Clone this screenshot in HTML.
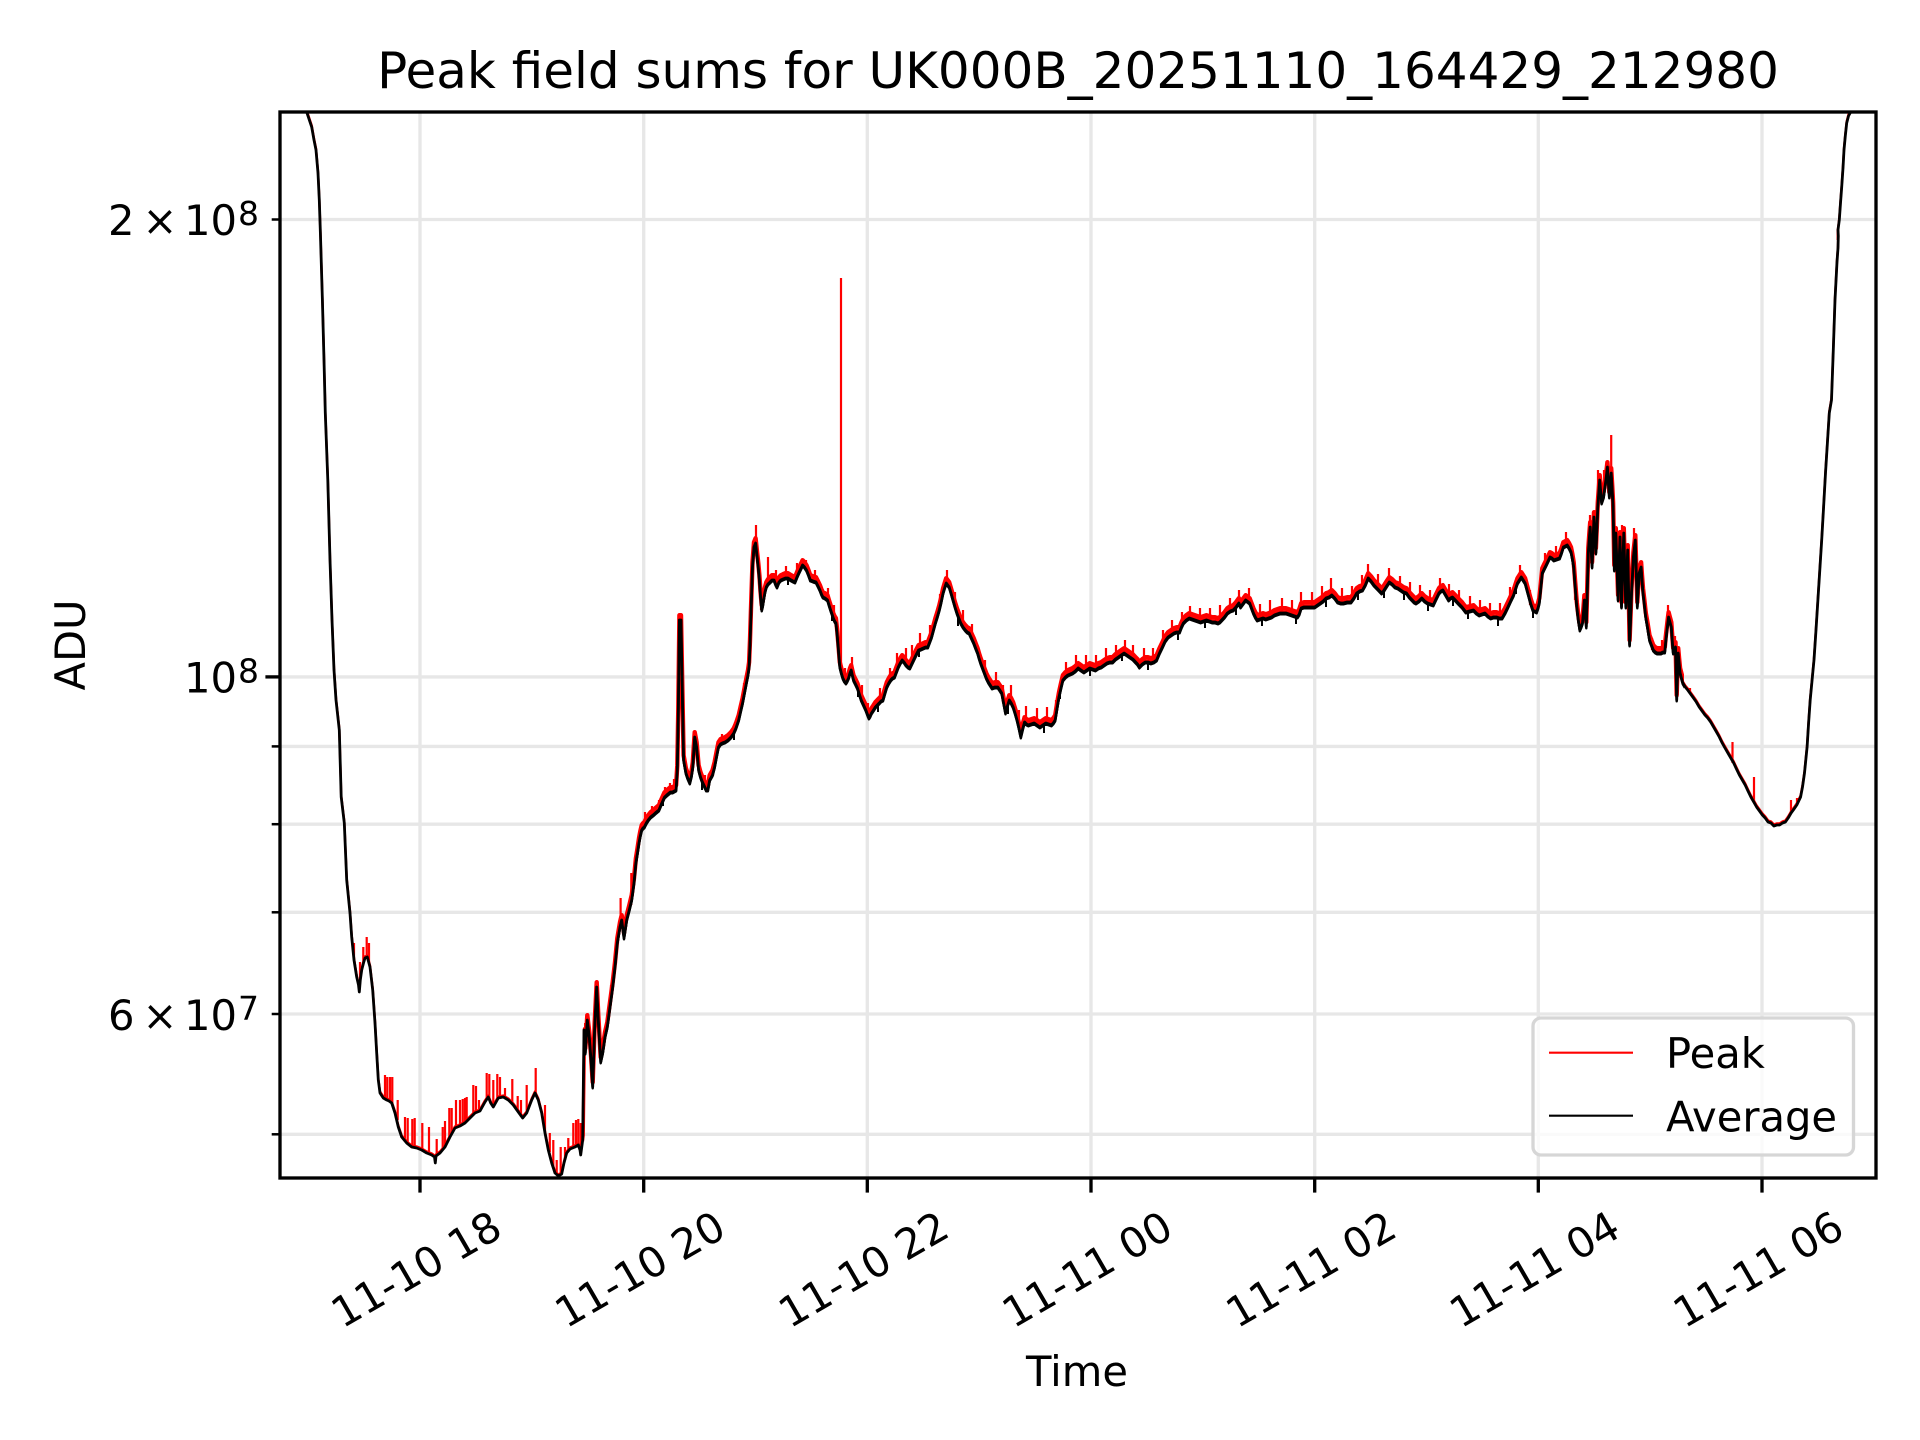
<!DOCTYPE html>
<html><head><meta charset="utf-8"><style>html,body{margin:0;padding:0;background:#fff}svg{display:block}</style></head>
<body>
<svg width="1920" height="1440" viewBox="0 0 1920 1440" xmlns="http://www.w3.org/2000/svg" font-family="'DejaVu Sans','Liberation Sans',sans-serif">
<rect width="1920" height="1440" fill="#fff"/>
<defs>
<clipPath id="ax"><rect x="280" y="112" width="1596" height="1066"/></clipPath>
<clipPath id="mid"><rect x="584" y="112" width="1100" height="1066"/></clipPath>
<polyline id="avg" points="303,100 306.7,112 311.7,127 314,140 316,150 318,173 319.3,200 320.4,233 322.4,300 324,360 325.3,413 327.8,480 330,560 332,620 334,670 336,700 339.3,730 341.2,797 344.3,823 346.7,880 350,913 351.7,937 354,960 356.7,977 358.5,985 359.3,992 360.3,980 361.7,970 363.5,963 365,958 367.3,957 370,967 372.7,990 375,1023 376.7,1053 378.3,1080 380,1093 383.3,1098 386.7,1100 389,1101 391.7,1103 395,1113 398.3,1127 401.7,1137 406.7,1143 411.7,1147 416.7,1148 421.7,1150 426.7,1153 431.7,1155 434.5,1157 435.3,1163 436,1156 440,1153 445,1147 450,1137 455,1128 460,1126 465,1123 470,1118 475,1113 480,1111 485,1102 488.3,1097 490.7,1103 493.3,1107 498.3,1098 503.3,1097 508.3,1100 513.3,1105 518.3,1112 522.7,1118 526.7,1113 531.7,1100 535,1093 538.3,1100 541.7,1113 545,1133 548.3,1150 551.7,1163 555,1173 558.3,1176 561.7,1174 564,1163 566.7,1153 570,1149 575,1147 578.3,1145 580,1150 580.7,1155 582.7,1140 584,1030 585.3,1053 587.3,1020 589.3,1037 591,1060 592.7,1087 594.7,1027 596.7,987 598.3,1020 600.7,1062 602.7,1053 605,1037 607.3,1027 610,1007 612.7,987 615,967 617.3,943 620,927 621.7,920 624,938 626.7,920 629.3,910 631.7,900 634,883 635.9,863 637.5,853 639,843 640.3,836 641.7,830 643,828 644.3,827 646.3,823 648.2,820 650.6,817 653.1,815 655.3,813 658.9,810 661,805 664.6,797 666.8,795 670.4,792 672.5,792 676.1,790 677.3,770 678.3,713 679.4,620 681,620 682.1,680 683.6,760 685.9,773 687.6,778 689.8,783 691.5,776 692.8,767 694.7,737 696.6,747 698.6,770 700.5,777 702.4,782 704.3,786 706.2,790 707.9,790 709.7,780 712.5,775 714.6,767 716.5,757 718.5,747 720.5,744 722.3,743 725,742 728,740 731,737 733.8,733 736,728 738.7,720 740.5,712 742.6,703 744.5,693 746.4,683 748,675 749.1,667 750,645 751,613 752.5,567 754,547 755.6,543 757.1,557 758.3,568 759.4,580 760.5,596 761.7,610 762.7,606 763.6,600 765,592 766.3,587 768,584 770.1,582 772,580 774,580 775.5,584 777,587 779,582 780.8,580 783,579 785.4,578 788,578 791.2,580 793,581 795,582 797,577 798.8,573 800.7,569 802.6,565 804.5,567 806.5,570 808.5,575 810.3,580 813,581 816,582 818,586 819.9,590 821.4,594 822.9,597 825,598 827.5,600 829,605 830.6,610 832,614 833.3,618 834.6,621 835.9,623 837,633 838.2,647 839,657 839.8,667 841.3,673 842.8,678 844.3,681 845.9,683 847.2,681 848.6,678 850,673 851.2,670 852.3,675 853.5,680 855.5,684 857.4,688 859.3,694 861.2,700 863.5,705 865.8,710 867.3,714 868.9,718 870.2,716 871.5,713 873.5,710 875.4,707 877.3,705 879.2,703 881,701 883,700 885,693 886.8,687 888.8,683 890.7,680 892.6,678 894.5,677 896.4,672 898.3,667 900.3,663 902.2,660 904,662 906,665 908,667 909.8,668 911.7,664 913.6,660 916,655 918.6,650 921,649 923.2,648 925.5,647 927.8,647 929.7,642 931.6,637 933.5,630 935.4,623 937.3,617 939.3,610 941.2,602 943.1,593 944.6,588 946.2,583 947.7,585 949.2,587 951,593 953,600 955,607 956.9,613 958.8,618 960.7,623 963,627 965.3,630 967.2,632 969.1,633 971.4,638 973.7,643 975.6,648 977.6,653 979,658 980.6,663 982.5,668 984.4,673 986.3,678 988.3,682 990.2,685 992.1,688 995,687 997.8,687 999.8,690 1001.7,693 1003.6,703 1005.5,713 1007.4,706 1009.3,700 1011.2,703 1013.1,707 1015,713 1017,720 1018.9,728 1020.8,737 1022.7,729 1024.6,722 1026.5,724 1028.4,725 1031.3,724 1034.2,723 1037,725 1039.9,727 1042.8,725 1045.7,723 1048.6,724 1051.4,725 1053.3,723 1055.2,720 1057.1,708 1059,697 1061,688 1062.9,680 1065.4,677 1067.9,675 1070.2,674 1072.5,673 1075.3,671 1078.2,668 1081,670 1083.9,672 1086.8,670 1089.7,668 1092.5,669 1095.4,670 1098.3,668 1101.2,667 1104,665 1106.9,663 1109.8,662 1112.6,662 1115.5,659 1118.4,657 1121.2,655 1124.1,653 1127,655 1129.9,657 1132.8,659 1135.6,662 1137.5,664 1139.4,667 1142.3,664 1145.2,662 1148,662 1150.9,663 1153.8,662 1156.6,660 1159.5,653 1162.4,647 1165.2,641 1168.1,637 1171,635 1173.9,633 1176.7,632 1179.6,632 1181.5,627 1183.4,623 1186.3,620 1189.2,618 1192,619 1194.9,620 1197.8,621 1200.6,622 1203.5,621 1206.4,620 1209.3,621 1212.1,622 1215,622 1217.9,623 1219.8,622 1221.7,620 1224.5,617 1227.4,613 1230.3,611 1233.2,610 1236,607 1238.9,603 1240.5,607 1245.7,600 1249.6,603 1251.5,608 1253.4,613 1255.3,617 1257.2,620 1260,619 1263,618 1265.8,619 1268.7,618 1271.5,617 1274.4,615 1277.3,614 1280.2,613 1283,613 1285.9,613 1288.8,614 1291.7,615 1294.5,616 1297.4,617 1299.3,614 1301.2,608 1304,607 1307,607 1310.8,607 1314.6,607 1317.5,605 1320.4,603 1323.2,601 1326.1,598 1329,597 1331.8,595 1334.7,598 1337.6,602 1340.5,603 1343.3,603 1347.2,602 1351,602 1353.9,598 1356.7,593 1359.6,591 1362.5,590 1365.3,585 1368.2,578 1371,581 1373.9,585 1377.8,589 1381.6,593 1383.5,591 1385.4,588 1387.3,585 1389.3,582 1392.1,584 1395,587 1397.8,588 1400.7,590 1403.6,592 1406.5,593 1409.3,597 1412.2,600 1414.1,602 1416,603 1418.9,601 1421.8,598 1424.6,601 1427.5,603 1430.4,604 1433.3,605 1436.1,599 1439,593 1440.9,591 1442.8,590 1445.7,595 1448.6,600 1450.5,598 1452.4,597 1455.3,600 1458.1,603 1462,607 1465.8,612 1469.6,611 1473.4,610 1476.3,613 1479.2,615 1482,614 1484.9,613 1487.8,616 1490.7,618 1493.5,617 1496.4,617 1499.3,618 1502.1,618 1505,613 1507.9,607 1510.7,601 1513.6,595 1515.5,589 1517.5,583 1519.4,580 1521.3,577 1523.2,580 1525.1,583 1527,590 1528.9,597 1530.8,604 1532.8,610 1534.7,611 1536.6,612 1538,608 1539.3,603 1540.8,588 1542.3,573 1544.2,569 1546.2,565 1548.1,561 1550,557 1551.9,558 1553.8,560 1556.7,559 1559.6,558 1561.5,553 1563.4,547 1565.3,546 1567.2,545 1569.1,548 1571,552 1572.4,559 1573.7,567 1575.2,587 1576.8,607 1578.3,620 1579.8,630 1581.1,627 1582.5,623 1583.5,612 1584.4,600 1585.3,613 1586.3,627 1587.3,590 1588.3,553 1589.2,540 1590.2,527 1591.1,547 1592.1,567 1593,542 1594,517 1595,535 1595.9,553 1596.9,530 1597.8,507 1598.8,493 1599.7,480 1600.7,492 1601.6,503 1602.6,500 1603.6,497 1604.5,490 1605.5,483 1606.5,475 1607.4,467 1608.4,482 1609.3,497 1610.3,485 1611.2,473 1612.2,490 1613.1,507 1614.3,570 1615.8,533 1617,566 1618.1,600 1619,568 1620,537 1620.8,572 1621.5,607 1622.6,570 1623.8,533 1624.8,570 1625.8,607 1626.7,578 1627.7,550 1628.7,598 1629.6,645 1630.6,619 1631.5,593 1632.5,575 1633.4,557 1634.4,548 1635.3,540 1636.3,573 1637.3,607 1638.2,590 1639.2,573 1640.2,570 1641.1,567 1642,580 1643,593 1644.4,605 1645.7,617 1647.6,628 1649.5,640 1651.4,645 1653.3,650 1655.2,652 1657.1,653 1659,653 1661,653 1662.9,652 1664.8,652 1665.7,642 1666.7,633 1667.6,625 1668.6,617 1669.9,622 1671.3,627 1672.2,640 1673.2,653 1674.3,650 1675.5,647 1676.1,673 1676.7,700 1677.4,677 1678.2,653 1679.1,663 1680.1,673 1681.4,678 1682.8,683 1685.2,687 1687.7,690 1690.6,694 1693.5,698 1696.3,702 1699.2,707 1702.1,711 1705,715 1707.8,718 1710.7,722 1713.6,727 1716.5,732 1719.3,737 1722.2,743 1725,748 1727.9,753 1730.8,758 1733.7,763 1736.5,769 1739.4,775 1742.3,780 1745.2,785 1748,791 1750.9,797 1753.8,802 1756.6,807 1759.5,811 1762.4,815 1765.2,818 1768.1,822 1771,823 1773.9,826 1776.7,825 1779.6,825 1782.5,823 1785.4,822 1788.2,818 1791.1,813 1794,809 1796.8,805 1798.7,801 1800.6,797 1802.5,787 1804.5,773 1805.8,760 1807.1,747 1808.6,723 1810.2,700 1812.1,680 1814,660 1816,630 1817.9,600 1819.8,570 1821.7,540 1823.6,507 1825.5,473 1827.4,443 1829.3,413 1831.5,400 1833.3,350 1835,300 1837,262 1838,248 1838.3,236 1838,230 1839.3,220 1840.5,203 1841.7,187 1843,168 1844,150 1845.3,136 1846.7,123 1848.5,116 1850.7,112 1853,100"/>
</defs>

<!-- grid -->
<g stroke="#e7e7e7" stroke-width="3.33" fill="none">
<line x1="420" y1="112" x2="420" y2="1178"/>
<line x1="643.7" y1="112" x2="643.7" y2="1178"/>
<line x1="867.3" y1="112" x2="867.3" y2="1178"/>
<line x1="1091" y1="112" x2="1091" y2="1178"/>
<line x1="1314.7" y1="112" x2="1314.7" y2="1178"/>
<line x1="1538.3" y1="112" x2="1538.3" y2="1178"/>
<line x1="1762" y1="112" x2="1762" y2="1178"/>
<line x1="280" y1="219.5" x2="1876" y2="219.5"/>
<line x1="280" y1="676.9" x2="1876" y2="676.9"/>
<line x1="280" y1="746.4" x2="1876" y2="746.4"/>
<line x1="280" y1="824.2" x2="1876" y2="824.2"/>
<line x1="280" y1="912.3" x2="1876" y2="912.3"/>
<line x1="280" y1="1014" x2="1876" y2="1014"/>
<line x1="280" y1="1134.3" x2="1876" y2="1134.3"/>
</g>

<!-- data -->
<g clip-path="url(#ax)" fill="none" stroke-linejoin="round">
<use href="#avg" stroke="#ff0000" stroke-width="2.4" transform="translate(0,-1.5)"/>
<g clip-path="url(#mid)"><use href="#avg" stroke="#ff0000" stroke-width="4.4" transform="translate(0,-4.8)"/></g>
<path stroke="#ff0000" stroke-width="2.2" d="M354 960V943M360 980V962M363.3 963V947M366.7 957V937M369 962V943M385 1099V1075M387.3 1100V1077M390 1102V1077M392.3 1105V1077M397.7 1120V1100M405 1142V1117M407.7 1144V1118M412.3 1147V1119M414.7 1148V1118M422.3 1150V1123M429 1154V1127M436.7 1155V1139M442.7 1150V1127M445 1147V1121M449.3 1139V1108M451.7 1134V1108M456 1128V1100M460 1126V1100M462.7 1124V1099M465 1123V1098M466.7 1121V1097M473.3 1115V1085M476 1113V1086M479 1111V1100M486.7 1098V1073M489.3 1100V1074M493.3 1107V1080M497.3 1100V1074M500 1097V1077M505 1098V1088M512.3 1104V1079M517.7 1111V1096M521 1117V1100M526.7 1113V1085M535.7 1093V1068M545 1133V1105M549.8 1152V1133M553.3 1168V1140M556.7 1174V1160M560.7 1175V1147M565 1160V1147M568.3 1151V1138M573.3 1148V1123M576 1147V1120M578.3 1145V1119M580.7 1150V1123M596.7 990V982M611 995V985M620.6 925V898M631.3 905V873
M841 670V278
M645 827V812M652 816V806M659 810V800M665 797V787M670 792V783M674 791V779M705 789V775M713 776V765M722 743V734M735 732V722M744 693V683M756 543V525M761 610V596M768 585V557M776 586V570M786 578V566M797 577V563M806 570V560M815 582V570M828 600V588M834 620V605M845 683V668M852 672V657M862 702V685M868 718V703M880 702V688M890 680V668M897 670V653M906 665V648M912 662V645M920 649V633M930 640V625M940 606V594M947 583V570M955 606V592M963 627V610M972 640V624M985 675V660M996 687V672M1003 703V685M1011 703V685M1019 730V710M1026 724V706M1037 725V708M1047 723V707M1056 712V700M1066 676V662M1076 670V655M1086 670V655M1096 670V655M1106 663V648M1116 658V645M1125 654V640M1133 660V645M1144 662V648M1153 662V648M1163 645V630M1172 634V620M1182 625V612M1190 619V606M1200 622V608M1210 621V608M1220 621V605M1230 611V598M1239 603V590M1249 603V588M1260 619V604M1270 618V600M1282 613V598M1292 615V600M1301 608V592M1312 607V592M1322 600V586M1331 595V578M1342 603V588M1352 602V586M1362 590V575M1368 578V564M1378 590V574M1389 582V568M1400 590V576M1410 598V582M1420 599V585M1430 604V590M1440 592V578M1449 600V584M1459 604V590M1470 610V596M1480 615V600M1490 618V603M1500 618V603M1510 601V587M1520 578V565M1530 605V590M1545 566V553M1556 559V546M1566 545V532M1575 600V590M1590 527V515M1598 490V470M1604 490V470M1611.2 473V435M1622 540V525M1634 545V528M1643 593V582M1652 650V638M1662 653V640M1668 617V605M1675 647V636M1690 694V688M1732.5 763V742M1754 803V777M1791 813V800M1797 805V798M1837.7 240V229"/>
<use href="#avg" stroke="#000000" stroke-width="2.8"/>
<g clip-path="url(#mid)"><use href="#avg" stroke="#000000" stroke-width="2.4" transform="translate(0,1.3)"/></g>
<path stroke="#000" stroke-width="2" d="M663 800V806M702 782V790M734 733V740M788 578V585M832 614V621M858 690V697M878 704V712M919 650V657M958 618V626M1008 704V714M1044 724V733M1060 692V699M1090 668V676M1122 654V661M1148 662V670M1178 632V640M1205 620V628M1236 607V615M1262 618V626M1296 616V624M1326 598V607M1358 592V600M1384 589V598M1404 592V600M1428 603V611M1453 597V606M1468 611V619M1498 618V626M1516 586V594M1533 610V618"/>
</g>

<!-- spines -->
<rect x="280" y="112" width="1596" height="1066" fill="none" stroke="#000" stroke-width="3.33"/>

<!-- ticks -->
<g stroke="#000" stroke-width="3.33">
<line x1="420" y1="1178" x2="420" y2="1192.6"/>
<line x1="643.7" y1="1178" x2="643.7" y2="1192.6"/>
<line x1="867.3" y1="1178" x2="867.3" y2="1192.6"/>
<line x1="1091" y1="1178" x2="1091" y2="1192.6"/>
<line x1="1314.7" y1="1178" x2="1314.7" y2="1192.6"/>
<line x1="1538.3" y1="1178" x2="1538.3" y2="1192.6"/>
<line x1="1762" y1="1178" x2="1762" y2="1192.6"/>
<line x1="265.4" y1="676.9" x2="280" y2="676.9"/>
</g>
<g stroke="#000" stroke-width="2.5">
<line x1="271.7" y1="219.5" x2="280" y2="219.5"/>
<line x1="271.7" y1="746.4" x2="280" y2="746.4"/>
<line x1="271.7" y1="824.2" x2="280" y2="824.2"/>
<line x1="271.7" y1="912.3" x2="280" y2="912.3"/>
<line x1="271.7" y1="1014" x2="280" y2="1014"/>
<line x1="271.7" y1="1134.3" x2="280" y2="1134.3"/>
</g>

<!-- y tick labels -->
<g font-size="41.67" fill="#000">
<text x="108" y="235">2</text><text x="160" y="235" text-anchor="middle">×</text><text x="184" y="235">10</text><text x="238" y="225" font-size="33">8</text>
<text x="184" y="692.4">10</text><text x="238" y="682.4" font-size="33">8</text>
<text x="108" y="1030">6</text><text x="160" y="1030" text-anchor="middle">×</text><text x="184" y="1030">10</text><text x="238" y="1020" font-size="33">7</text>
</g>

<!-- x tick labels -->
<g font-size="41.67" fill="#000" text-anchor="middle">
<text x="416" y="1269" dy="15" transform="rotate(-30 416 1269)">11-10 18</text>
<text x="639.7" y="1269" dy="15" transform="rotate(-30 639.7 1269)">11-10 20</text>
<text x="863.3" y="1269" dy="15" transform="rotate(-30 863.3 1269)">11-10 22</text>
<text x="1087" y="1269" dy="15" transform="rotate(-30 1087 1269)">11-11 00</text>
<text x="1310.7" y="1269" dy="15" transform="rotate(-30 1310.7 1269)">11-11 02</text>
<text x="1534.3" y="1269" dy="15" transform="rotate(-30 1534.3 1269)">11-11 04</text>
<text x="1758" y="1269" dy="15" transform="rotate(-30 1758 1269)">11-11 06</text>
</g>

<!-- axis labels & title -->
<text x="1077" y="1386" font-size="41.67" text-anchor="middle" fill="#000">Time</text>
<text transform="translate(85,645) rotate(-90)" font-size="41.67" text-anchor="middle" fill="#000">ADU</text>
<text x="1078" y="88" font-size="50" text-anchor="middle" fill="#000">Peak field sums for UK000B_20251110_164429_212980</text>

<!-- legend -->
<rect x="1533" y="1018" width="320.5" height="137" rx="8" ry="8" fill="#ffffff" fill-opacity="0.8" stroke="#d6d6d6" stroke-width="3.33"/>
<line x1="1549" y1="1052.7" x2="1633" y2="1052.7" stroke="#ff0000" stroke-width="2.1"/>
<line x1="1549" y1="1115.7" x2="1633" y2="1115.7" stroke="#000" stroke-width="2.1"/>
<text x="1666" y="1068" font-size="41.67" fill="#000">Peak</text>
<text x="1666" y="1131.5" font-size="41.67" fill="#000">Average</text>
</svg>
</body></html>
